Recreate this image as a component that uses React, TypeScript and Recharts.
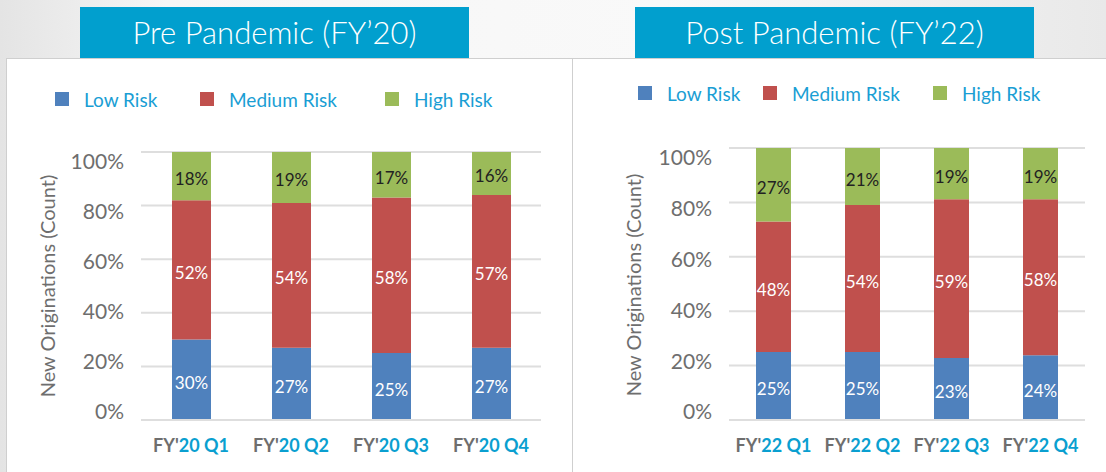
import React from "react";
import { BarChart, Bar, XAxis, YAxis, CartesianGrid, LabelList } from "recharts";

const preQuarters = ["FY'20 Q1", "FY'20 Q2", "FY'20 Q3", "FY'20 Q4"];
const preLow = [30, 27, 25, 27];
const preMedium = [52, 54, 58, 57];
const preHigh = [18, 19, 17, 16];

const postQuarters = ["FY'22 Q1", "FY'22 Q2", "FY'22 Q3", "FY'22 Q4"];
const postLow = [25, 25, 23, 24];
const postMedium = [48, 54, 59, 58];
const postHigh = [27, 21, 19, 19];

const yTicks = [0, 0.2, 0.4, 0.6, 0.8, 1];
const seriesNames = ["Low Risk", "Medium Risk", "High Risk"];
const seriesKeys = ["low", "medium", "high"];
const seriesColors = ["#4f81bd", "#c0504d", "#9bbb59"];
const labelColors = ["#ffffff", "#ffffff", "#222222"];

const BANNER = "#019fce";
const LEGEND_TEXT = "#1a9ed4";
const GREY = "#6e6e6e";
const GRID = "#dedede";
const FONT = "Lato, 'Open Sans', sans-serif";

const buildRows = (q: string[], low: number[], medium: number[], high: number[]) =>
  q.map((name, i) => ({ name, low: low[i], medium: medium[i], high: high[i] }));

const preRows = buildRows(preQuarters, preLow, preMedium, preHigh);
const postRows = buildRows(postQuarters, postLow, postMedium, postHigh);

const YTick = (props: any) => {
  const { x, y, payload } = props;
  const v = payload.value as number;
  // the original labels drift a little off their gridlines
  const shift = -8 + 18 * v;
  return (
    <text x={x} y={y + shift} dy="0.35em" textAnchor="end" fill={GREY} fontSize={21} fontFamily={FONT}>
      {Math.round(v * 100)}%
    </text>
  );
};

const XTick = (props: any) => {
  const { x, y, payload } = props;
  const s = String(payload.value);
  return (
    <text x={x} y={y} dy={24} textAnchor="middle" fontSize={18} fontWeight={700} fontFamily={FONT}>
      <tspan fill={GREY}>{s.slice(0, 3)}</tspan>
      <tspan fill="#0a9fd0">{s.slice(3)}</tspan>
    </text>
  );
};

type PanelProps = {
  title: string;
  rows: any[];
  boxLeft: number;
  boxWidth: number;
  banner: { left: number; width: number };
  legendX: number[];
  legendTop: number;
  yAxisWidth: number;
  marginTop: number;
  marginRight: number;
  barSize: number;
  yTitleX: number;
  yTitleY: number;
};

function Panel(p: PanelProps) {
  return (
    <>
      <div
        style={{
          position: "absolute",
          left: p.boxLeft,
          top: 58,
          width: p.boxWidth,
          height: 430,
          background: "#fff",
          border: "1px solid #cfcfcf",
          boxSizing: "border-box",
        }}
      />
      <div
        style={{
          position: "absolute",
          left: p.banner.left,
          top: 7,
          width: p.banner.width,
          height: 51,
          background: BANNER,
          color: "#fff",
          fontFamily: FONT,
          fontWeight: 300,
          fontSize: 31,
          lineHeight: "51px",
          textAlign: "center",
        }}
      >
        {p.title}
      </div>
      {seriesNames.map((n, i) => (
        <div
          key={n}
          style={{
            position: "absolute",
            left: p.legendX[i],
            top: p.legendTop,
            display: "flex",
            alignItems: "center",
            fontFamily: FONT,
            fontSize: 19,
            color: LEGEND_TEXT,
            height: 24,
          }}
        >
          <span style={{ width: 14, height: 14, background: seriesColors[i], marginRight: 15 }} />
          {n}
        </div>
      ))}
      <div
        style={{
          position: "absolute",
          left: p.yTitleX - 150,
          top: p.yTitleY - 12,
          width: 300,
          height: 24,
          lineHeight: "24px",
          textAlign: "center",
          transform: "rotate(-90deg)",
          fontFamily: FONT,
          fontSize: 20,
          color: GREY,
          whiteSpace: "nowrap",
        }}
      >
        New Originations (Count)
      </div>
      <div style={{ position: "absolute", left: p.boxLeft, top: 58 }}>
        <BarChart
          width={p.boxWidth}
          height={414}
          data={p.rows}
          stackOffset="expand"
          margin={{ top: p.marginTop, right: p.marginRight, bottom: 22, left: 0 }}
        >
          <CartesianGrid vertical={false} stroke={GRID} strokeWidth={2} />
          <XAxis
            dataKey="name"
            height={30}
            axisLine={{ stroke: GRID, strokeWidth: 2 }}
            tickLine={false}
            tick={<XTick />}
            interval={0}
          />
          <YAxis
            width={p.yAxisWidth}
            domain={[0, 1]}
            ticks={yTicks}
            axisLine={false}
            tickLine={false}
            tickSize={0}
            tickMargin={17}
            tick={<YTick />}
          />
          {seriesKeys.map((k, i) => (
            <Bar
              key={k}
              dataKey={k}
              name={seriesNames[i]}
              stackId="a"
              fill={seriesColors[i]}
              barSize={p.barSize}
              isAnimationActive={false}
            >
              <LabelList
                dataKey={k}
                position="center"
                formatter={(v: any) => `${v}%`}
                fill={labelColors[i]}
                fontSize={17}
                fontFamily={FONT}
                dy={3}
              />
            </Bar>
          ))}
        </BarChart>
      </div>
    </>
  );
}

export default function App() {
  return (
    <div
      style={{
        position: "absolute",
        left: 0,
        top: 0,
        width: 1106,
        height: 472,
        overflow: "hidden",
        background: "linear-gradient(to right, #e4e4e4 0%, #f6f6f6 15%, #f9f9f9 60%, #e9e9e9 100%)",
      }}
    >
      <Panel
        title="Pre Pandemic (FY’20)"
        rows={preRows}
        boxLeft={6}
        boxWidth={567}
        banner={{ left: 80, width: 389 }}
        legendX={[55, 200, 385]}
        legendTop={87}
        yAxisWidth={135}
        marginTop={94}
        marginRight={32}
        barSize={39}
        yTitleX={47}
        yTitleY={286}
      />
      <Panel
        title="Post Pandemic (FY’22)"
        rows={postRows}
        boxLeft={572}
        boxWidth={545}
        banner={{ left: 635, width: 399 }}
        legendX={[638, 763, 933]}
        legendTop={81}
        yAxisWidth={157}
        marginTop={90}
        marginRight={32}
        barSize={35}
        yTitleX={633}
        yTitleY={285}
      />
    </div>
  );
}
